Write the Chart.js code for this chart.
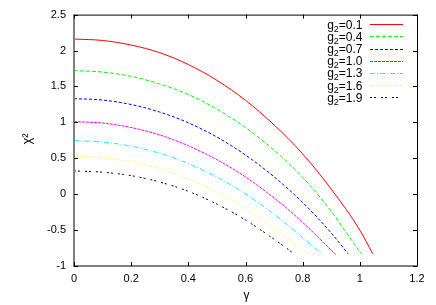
<!DOCTYPE html>
<html>
<head>
<meta charset="utf-8">
<script src="https://cdn.jsdelivr.net/npm/chart.js@4.4.0/dist/chart.umd.min.js"></script>
<style>
html,body{margin:0;padding:0;background:#fff;}
#wrap{width:436px;height:305px;position:relative;}
</style>
</head>
<body>
<div id="wrap"><canvas id="c" width="436" height="305"></canvas></div>
<script>
// ---- data ----
const g2Values = ["0.1","0.4","0.7","1.0","1.3","1.6","1.9"];
const xTicks = [0, 0.2, 0.4, 0.6, 0.8, 1.0, 1.2];
const yTicks = [-1, -0.5, 0, 0.5, 1, 1.5, 2, 2.5];

const gamma_01 = [0,0.1,0.2,0.3,0.4,0.5,0.6,0.7,0.8,0.9,1.0,1.045];
const chi_01   = [2.16,2.14,2.076,1.97,1.805,1.585,1.307,0.964,0.56,0.07,-0.50,-0.83];

const gamma_04 = [0,0.1,0.2,0.3,0.4,0.5,0.6,0.7,0.8,0.9,1.0,1.006];
const chi_04   = [1.72,1.70,1.64,1.535,1.387,1.185,0.928,0.613,0.235,-0.24,-0.80,-0.83];

const gamma_07 = [0,0.1,0.2,0.3,0.4,0.5,0.6,0.7,0.8,0.9,0.959];
const chi_07   = [1.33,1.31,1.248,1.143,0.994,0.795,0.545,0.242,-0.116,-0.541,-0.83];

const gamma_10 = [0,0.1,0.2,0.3,0.4,0.5,0.6,0.7,0.8,0.9,0.916];
const chi_10   = [1.01,0.99,0.928,0.824,0.674,0.48,0.24,-0.053,-0.392,-0.78,-0.84];

const gamma_13 = [0,0.1,0.2,0.3,0.4,0.5,0.6,0.7,0.8,0.866];
const chi_13   = [0.746,0.726,0.668,0.569,0.426,0.238,0.004,-0.278,-0.604,-0.83];

const gamma_16 = [0,0.1,0.2,0.3,0.4,0.5,0.6,0.7,0.8,0.819];
const chi_16   = [0.528,0.508,0.452,0.354,0.214,0.03,-0.199,-0.472,-0.784,-0.83];

const gamma_19 = [0,0.1,0.2,0.3,0.4,0.5,0.6,0.7,0.767];
const chi_19   = [0.324,0.306,0.258,0.169,0.039,-0.138,-0.36,-0.627,-0.82];

const gammas = [gamma_01,gamma_04,gamma_07,gamma_10,gamma_13,gamma_16,gamma_19];
const chis   = [chi_01,chi_04,chi_07,chi_10,chi_13,chi_16,chi_19];

// ---- styles ----
const colors = ['#ff0000','#00ff00','#0000ff','#ff00ff','#00ffff','#ffff00','#000000'];
const dashes = [[], [4,2], [3,2], [3,1], [5,2,1,2], [1,2], [2,2,2,5]];

const FONT = '"Liberation Sans", Arial, sans-serif';

const datasets = g2Values.map((g, i) => ({
  label: 'g\u2082=' + g,
  data: gammas[i].map((x, j) => ({x: x, y: chis[i][j]})),
  borderColor: colors[i],
  borderWidth: 1,
  borderDash: dashes[i],
  pointRadius: 0,
  fill: false,
  cubicInterpolationMode: 'monotone'
}));

const framePlugin = {
  id: 'frame',
  afterDraw(chart) {
    const ctx = chart.ctx;
    const a = chart.chartArea;
    const xs = chart.scales.x, ys = chart.scales.y;
    ctx.save();
    // border
    ctx.setLineDash([]);
    ctx.strokeStyle = '#000';
    ctx.lineWidth = 1;
    ctx.beginPath();
    ctx.moveTo(a.left, a.top + 0.5); ctx.lineTo(a.right + 0.5, a.top + 0.5);
    ctx.moveTo(a.right + 0.5, a.top); ctx.lineTo(a.right + 0.5, a.bottom);
    ctx.stroke();
    ctx.strokeStyle = '#808080';
    ctx.lineWidth = 2;
    ctx.beginPath();
    ctx.moveTo(a.left, a.top); ctx.lineTo(a.left, a.bottom + 1);
    ctx.moveTo(a.left - 1, a.bottom); ctx.lineTo(a.right + 1, a.bottom);
    ctx.stroke();
    // ticks (inward, mirrored)
    ctx.strokeStyle = '#000';
    ctx.lineWidth = 1;
    ctx.beginPath();
    xTicks.forEach(v => {
      const p = Math.round(xs.getPixelForValue(v)) + 0.5;
      ctx.moveTo(p, a.bottom); ctx.lineTo(p, a.bottom - 4);
      ctx.moveTo(p, a.top); ctx.lineTo(p, a.top + 4);
    });
    yTicks.forEach(v => {
      const p = Math.round(ys.getPixelForValue(v)) + 0.5;
      ctx.moveTo(a.left, p); ctx.lineTo(a.left + 4, p);
      ctx.moveTo(a.right, p); ctx.lineTo(a.right - 4, p);
    });
    ctx.stroke();

    // axis titles
    ctx.fillStyle = '#000';
    ctx.font = '12px ' + FONT;
    ctx.textAlign = 'center';
    ctx.textBaseline = 'alphabetic';
    ctx.fillText('\u03b3', (a.left + a.right) / 2 + 1, 299);
    ctx.save();
    ctx.translate(31, 139);
    ctx.rotate(-Math.PI / 2);
    ctx.textAlign = 'center';
    ctx.font = '13px ' + FONT;
    ctx.fillText('\u03c7\u00b2', 0, 0);
    ctx.restore();

    // legend
    const right = 362.5;
    g2Values.forEach((g, i) => {
      const yc = 24.3 + i * 12.17;
      ctx.font = '12px ' + FONT;
      const wg = ctx.measureText('g').width;
      const wr = ctx.measureText('=' + g).width;
      ctx.font = '9px ' + FONT;
      const ws = ctx.measureText('2').width;
      let x0 = right - (wg + ws + wr);
      ctx.textAlign = 'left';
      ctx.textBaseline = 'alphabetic';
      ctx.fillStyle = '#000';
      ctx.font = '12px ' + FONT;
      ctx.fillText('g', x0, yc + 4.5);
      ctx.font = '9px ' + FONT;
      ctx.fillText('2', x0 + wg, yc + 7.5);
      ctx.font = '12px ' + FONT;
      ctx.fillText('=' + g, x0 + wg + ws, yc + 4.5);
      ctx.strokeStyle = colors[i];
      ctx.lineWidth = 1;
      ctx.setLineDash(dashes[i]);
      ctx.beginPath();
      ctx.moveTo(370, Math.round(yc) + 0.5);
      ctx.lineTo(403, Math.round(yc) + 0.5);
      ctx.stroke();
    });
    ctx.restore();
  }
};

new Chart(document.getElementById('c'), {
  type: 'line',
  data: { datasets: datasets },
  options: {
    responsive: false,
    animation: false,
    events: [],
    layout: { padding: { left: 0, top: 14, right: 19, bottom: 0 } },
    plugins: { legend: { display: false }, tooltip: { enabled: false } },
    scales: {
      x: {
        type: 'linear', min: 0, max: 1.2,
        grid: { display: false, drawTicks: false },
        border: { display: false },
        afterBuildTicks: s => { s.ticks = xTicks.map(v => ({value: v})); },
        afterFit: s => { s.height = 39; },
        ticks: { color: '#000', padding: 6, font: { family: FONT, size: 11 },
                 maxRotation: 0, autoSkip: false,
                 callback: v => String(Math.round(v * 10) / 10) }
      },
      y: {
        type: 'linear', min: -1, max: 2.5,
        grid: { display: false, drawTicks: false },
        border: { display: false },
        afterBuildTicks: s => { s.ticks = yTicks.map(v => ({value: v})); },
        afterFit: s => { s.width = 74; },
        ticks: { color: '#000', padding: 8, font: { family: FONT, size: 11 },
                 autoSkip: false,
                 callback: v => String(v) }
      }
    }
  },
  plugins: [framePlugin]
});
</script>
</body>
</html>
